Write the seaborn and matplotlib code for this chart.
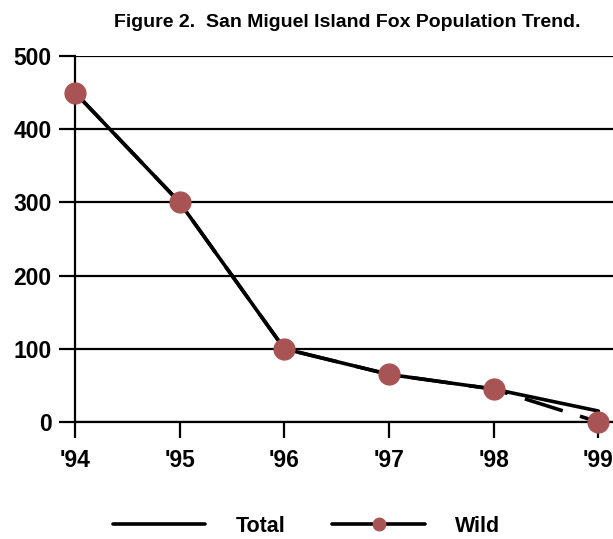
import matplotlib
matplotlib.use("Agg")
import matplotlib.pyplot as plt
import seaborn as sns
import pandas as pd
from matplotlib.lines import Line2D

# =========================================================
# DATA
# =========================================================
YEARS = ["'94", "'95", "'96", "'97", "'98", "'99"]
TOTAL = [450, 300, 100, 65, 45, 15]
WILD = [450, 300, 100, 65, 45, 0]

COL_LINE = "black"
COL_MARK = "#a85454"

df = pd.DataFrame({"pos": range(len(YEARS)), "Total": TOTAL, "Wild": WILD})

# =========================================================
# FIGURE
# =========================================================
sns.set_style("white")
plt.rcParams["font.family"] = ["Liberation Sans", "DejaVu Sans"]
plt.rcParams["font.weight"] = "bold"
plt.rcParams["text.color"] = "black"
plt.rcParams["xtick.color"] = "black"
plt.rcParams["ytick.color"] = "black"

fig = plt.figure(figsize=(6.13, 5.39), dpi=100)
ax = fig.add_axes([75 / 613, 117 / 539, 538 / 613, 366 / 539])

sns.lineplot(data=df, x="pos", y="Wild", ax=ax, color=COL_LINE, lw=2.6, clip_on=False)
ax.lines[-1].set_dashes((11, 5))
sns.lineplot(data=df, x="pos", y="Total", ax=ax, color=COL_LINE, lw=2.6, clip_on=False)
ax.plot(df["pos"], df["Wild"], ls="none", marker="o", ms=15, color=COL_MARK,
        mec=COL_MARK, clip_on=False, zorder=5)

ax.set_xlim(0, 5.14)
ax.set_ylim(0, 500)
ax.set_xticks(range(len(YEARS)))
ax.set_xticklabels(YEARS)
ax.set_yticks(range(0, 501, 100))
ax.set_xlabel("")
ax.set_ylabel("")

ax.grid(axis="y", color="black", lw=1.6)
ax.grid(axis="x", visible=False)
ax.set_axisbelow(True)
for s in ["top", "right"]:
    ax.spines[s].set_visible(False)
for s in ["left", "bottom"]:
    ax.spines[s].set_color("black")
    ax.spines[s].set_linewidth(1.6)

ax.tick_params(axis="both", which="major", bottom=True, left=True, direction="out",
               length=11.5, width=1.6, color="black", labelcolor="black", labelsize=16.5)
ax.tick_params(axis="x", pad=8)
ax.tick_params(axis="y", pad=5.5)
for lab in ax.get_xticklabels() + ax.get_yticklabels():
    lab.set_fontweight("bold")

fig.text(0.566, 0.958, "Figure 2.  San Miguel Island Fox Population Trend.",
         ha="center", va="center", fontsize=14, fontweight="bold", color="black")

handles = [
    Line2D([], [], color=COL_LINE, lw=2.6),
    Line2D([], [], color=COL_LINE, lw=2.6, marker="o", ms=9,
           mfc=COL_MARK, mec=COL_MARK),
]
fig.legend(handles, ["Total", "Wild"], loc="center", bbox_to_anchor=(0.5, 0.024),
           ncol=2, frameon=False, handlelength=4.3, handletextpad=1.4,
           columnspacing=2.2, prop={"size": 15.5, "weight": "bold"})

plt.savefig("out.png", dpi=100)
